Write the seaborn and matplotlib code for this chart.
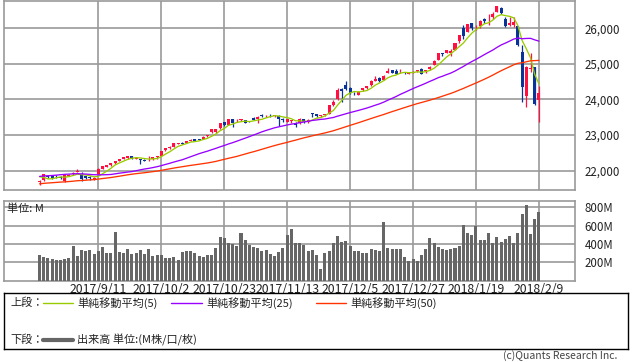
import matplotlib
matplotlib.use("Agg")
import matplotlib.pyplot as plt
import numpy as np
import pandas as pd
import seaborn as sns

# Daily candles, 2017/8/21 - 2018/2/9 (120 sessions)
opens = [21674, 21728, 21850, 21840, 21830, 21830, 21720, 21860, 21900, 21960,
         21870, 21840, 21830, 21760, 21920, 22060, 22110, 22150, 22210, 22280,
         22330, 22360, 22410, 22340, 22330, 22310, 22320, 22330, 22390, 22420,
         22570, 22640, 22670, 22750, 22790, 22780, 22830, 22880, 22880, 22890,
         22960, 23080, 23080, 23190, 23360, 23290, 23440, 23390, 23420, 23420,
         23380, 23480, 23440, 23560, 23530, 23570, 23530, 23540, 23440, 23370,
         23400, 23340, 23330, 23440, 23370, 23620, 23590, 23530, 23560, 23600,
         23840, 24000, 24300, 24420, 24310, 24150, 24130, 24260, 24330, 24400,
         24530, 24600, 24560, 24740, 24820, 24800, 24760, 24760, 24720, 24750,
         24790, 24850, 24810, 24850, 24980, 25115, 25310, 25310, 25310, 25400,
         25630, 26020, 25900, 26140, 26050, 26050, 26250, 26250, 26320, 26470,
         26580, 26270, 26090, 26080, 26060, 25338, 24085, 24850, 24902, 23992]
highs = [21725, 21920, 21870, 21880, 21880, 21850, 21870, 21905, 21960, 22050,
         21960, 21860, 21850, 21830, 22070, 22120, 22160, 22210, 22270, 22340,
         22380, 22420, 22420, 22370, 22340, 22340, 22420, 22390, 22410, 22560,
         22650, 22680, 22780, 22790, 22800, 22840, 22880, 22890, 22900, 22960,
         23000, 23180, 23170, 23350, 23370, 23450, 23450, 23440, 23460, 23430,
         23400, 23500, 23530, 23580, 23560, 23600, 23570, 23550, 23470, 23450,
         23430, 23360, 23480, 23460, 23440, 23630, 23600, 23570, 23600, 23850,
         23990, 24330, 24330, 24530, 24350, 24200, 24230, 24330, 24390, 24550,
         24670, 24620, 24690, 24880, 24830, 24850, 24850, 24770, 24760, 24800,
         24840, 24870, 24830, 24940, 25100, 25300, 25310, 25400, 25410, 25600,
         25810, 26090, 26130, 26150, 26090, 26220, 26300, 26390, 26460, 26620,
         26610, 26310, 26330, 26310, 26060, 25520, 24946, 25294, 24903, 24382]
lows = [21600, 21720, 21790, 21770, 21800, 21780, 21690, 21840, 21890, 21950,
        21720, 21770, 21750, 21740, 21910, 22050, 22100, 22140, 22200, 22270,
        22320, 22330, 22340, 22320, 22180, 22270, 22270, 22310, 22340, 22410,
        22560, 22620, 22660, 22740, 22750, 22770, 22820, 22830, 22860, 22880,
        22940, 23060, 23050, 23180, 23260, 23280, 23230, 23370, 23390, 23330,
        23360, 23420, 23335, 23520, 23510, 23520, 23510, 23250, 23380, 23360,
        23350, 23240, 23320, 23350, 23350, 23500, 23510, 23520, 23540, 23590,
        23830, 23980, 23920, 24270, 24160, 24120, 24120, 24250, 24300, 24390,
        24520, 24500, 24540, 24730, 24740, 24710, 24750, 24720, 24710, 24740,
        24770, 24710, 24740, 24840, 24960, 25100, 25220, 25310, 25220, 25390,
        25600, 25690, 25890, 25940, 25950, 26000, 26150, 26100, 26270, 26470,
        26410, 26040, 26070, 26030, 25500, 23923, 23778, 24771, 23849, 23360]
closes = [21703, 21899, 21812, 21783, 21814, 21808, 21865, 21892, 21948, 21988,
          21753, 21808, 21785, 21798, 22057, 22119, 22158, 22203, 22268, 22331,
          22371, 22413, 22359, 22350, 22296, 22284, 22341, 22381, 22405, 22558,
          22642, 22662, 22775, 22774, 22761, 22831, 22873, 22841, 22872, 22957,
          22997, 23158, 23163, 23329, 23274, 23442, 23329, 23401, 23434, 23349,
          23377, 23435, 23516, 23539, 23548, 23557, 23563, 23462, 23422, 23440,
          23409, 23271, 23458, 23358, 23430, 23591, 23526, 23558, 23581, 23837,
          23941, 24272, 24232, 24290, 24181, 24141, 24211, 24329, 24386, 24505,
          24585, 24509, 24652, 24792, 24755, 24727, 24782, 24754, 24746, 24774,
          24838, 24719, 24824, 24923, 25075, 25296, 25283, 25386, 25369, 25575,
          25803, 25793, 26116, 26018, 26072, 26215, 26211, 26252, 26393, 26617,
          26439, 26077, 26149, 26187, 25521, 24346, 24913, 24893, 23860, 24191]
# volume in millions
volumes = [280, 261, 246, 235, 228, 224, 235, 246, 380, 269,
           335, 328, 335, 291, 324, 369, 302, 302, 535, 309,
           302, 346, 291, 302, 335, 291, 346, 269, 280, 280,
           246, 246, 257, 224, 313, 320, 320, 298, 269, 257,
           280, 280, 354, 479, 468, 409, 398, 380, 520, 442,
           391, 365, 354, 328, 335, 291, 269, 309, 354, 501,
           568, 409, 409, 391, 320, 335, 280, 124, 298, 320,
           409, 487, 420, 431, 376, 320, 320, 298, 298, 346,
           335, 320, 642, 357, 346, 346, 346, 261, 209, 235,
           209, 280, 346, 468, 413, 372, 346, 335, 346, 357,
           383, 612, 520, 501, 594, 438, 438, 524, 413, 479,
           424, 457, 490, 413, 524, 724, 823, 512, 668, 746]
# closes of the 49 sessions before the first candle (feed the 25/50 day averages)
closes_before = [21236, 21328, 21375, 21360, 21384, 21529, 21467, 21410, 21397, 21395,
                 21410, 21311, 21455, 21287, 21350, 21479, 21478, 21320, 21414,
                 21409, 21409, 21532, 21553, 21638, 21630, 21575, 21641, 21612, 21580,
                 21513, 21613, 21711, 21797, 21830, 21891, 21964, 22016, 22026, 22093,
                 22118, 22085, 22049, 21844, 21858, 21994, 21999, 22025, 21751, 21675]

date_ticks = [14, 29, 44, 59, 74, 89, 104, 119]
date_labels = ["2017/9/11", "2017/10/2", "2017/10/23", "2017/11/13",
               "2017/12/5", "2017/12/27", "2018/1/19", "2018/2/9"]
price_ticks = [22000, 23000, 24000, 25000, 26000]
price_labels = ["22,000", "23,000", "24,000", "25,000", "26,000"]
vol_ticks = [200, 400, 600, 800]
vol_labels = ["200M", "400M", "600M", "800M"]

RED = "#ff1040"
BLUE = "#0a3399"
GRID = "#999999"
MA_COLORS = {5: "#99cc00", 25: "#9900ff", 50: "#ff3300"}

sns.set_style("white")
plt.rcParams["font.family"] = ["Noto Sans CJK JP", "DejaVu Sans"]

W, H = 638, 362
fig = plt.figure(figsize=(W / 100, H / 100), dpi=100)


def px_axes(left, top, right, bottom):
    return fig.add_axes([left / W, 1 - bottom / H, (right - left) / W, (bottom - top) / H])


o = np.array(opens)
c = np.array(closes)
x = np.arange(len(c))
cols = np.where(c >= o, RED, BLUE)

# ---- price panel
ax1 = px_axes(3.5, 0.5, 575, 190)
ax1.vlines(x, lows, highs, colors=cols, lw=0.9, zorder=3)
ax1.bar(x, np.maximum(np.abs(c - o), 18), bottom=np.minimum(o, c), width=0.72,
        color=cols, linewidth=0, zorder=4)

all_close = pd.Series(closes_before + closes, dtype=float)
ma_df = pd.DataFrame({"idx": x})
for n in (5, 25, 50):
    ma_df[f"ma{n}"] = all_close.rolling(n).mean().to_numpy()[len(closes_before):]
    sns.lineplot(data=ma_df, x="idx", y=f"ma{n}", color=MA_COLORS[n], lw=0.95,
                 ax=ax1, zorder=5)

ax1.set_xlim(-8.6, 127.6)
ax1.set_ylim(21457, 26780)
ax1.set_xticks(date_ticks)
ax1.set_xticklabels([])
ax1.set_yticks(price_ticks)
ax1.set_yticklabels(price_labels)

# ---- volume panel
ax2 = px_axes(3.5, 201, 575, 280.5)
sns.barplot(x=x, y=volumes, native_scale=True, color="#666666", saturation=1,
            width=0.72, errorbar=None, linewidth=0, ax=ax2, zorder=3)
ax2.set_xlim(-8.6, 127.6)
ax2.set_ylim(0, 870)
ax2.set_xticks(date_ticks)
ax2.set_xticklabels(date_labels)
ax2.set_yticks(vol_ticks)
ax2.set_yticklabels(vol_labels)

for ax in (ax1, ax2):
    ax.set_xlabel("")
    ax.set_ylabel("")
    ax.set_axisbelow(True)
    ax.grid(True, color=GRID, lw=1.2)
    ax.yaxis.tick_right()
    ax.tick_params(axis="y", length=0, pad=7, labelsize=8.3, labelcolor="#222222")
    ax.tick_params(axis="x", length=0, pad=1.5, labelsize=8.8, labelcolor="#222222")
    for s in ax.spines.values():
        s.set_color(GRID)
        s.set_linewidth(1.2)

fig.text(7 / W, 1 - 209 / H, "単位: M", fontsize=8, color="#222222", va="center")

# ---- legend box
lg = px_axes(4, 293, 628, 349)
lg.set_xlim(4, 628)
lg.set_ylim(349, 293)
lg.set_xticks([])
lg.set_yticks([])
for s in lg.spines.values():
    s.set_color("black")
    s.set_linewidth(1)

row1, row2 = 303, 340
lg.text(10, row1, "上段：", fontsize=8, va="center", color="#222222")
for (x0, x1, tx, n) in [(43, 73, 77, "5"), (171, 202, 206, "25"), (316, 346, 350, "50")]:
    lg.plot([x0, x1], [row1, row1], color=MA_COLORS[int(n)], lw=1)
    lg.text(tx, row1, f"単純移動平均({n})", fontsize=8, va="center", color="#222222")
lg.text(10, row2, "下段：", fontsize=8, va="center", color="#222222")
lg.plot([43, 73], [row2, row2], color="#666666", lw=3)
lg.text(77, row2, "出来高 単位:(M株/口/枚)", fontsize=8, va="center", color="#222222")

fig.text(617 / W, 1 - 356 / H, "(c)Quants Research Inc.", fontsize=7.5,
         color="#444444", ha="right", va="center")

fig.savefig("out.png", dpi=100)
